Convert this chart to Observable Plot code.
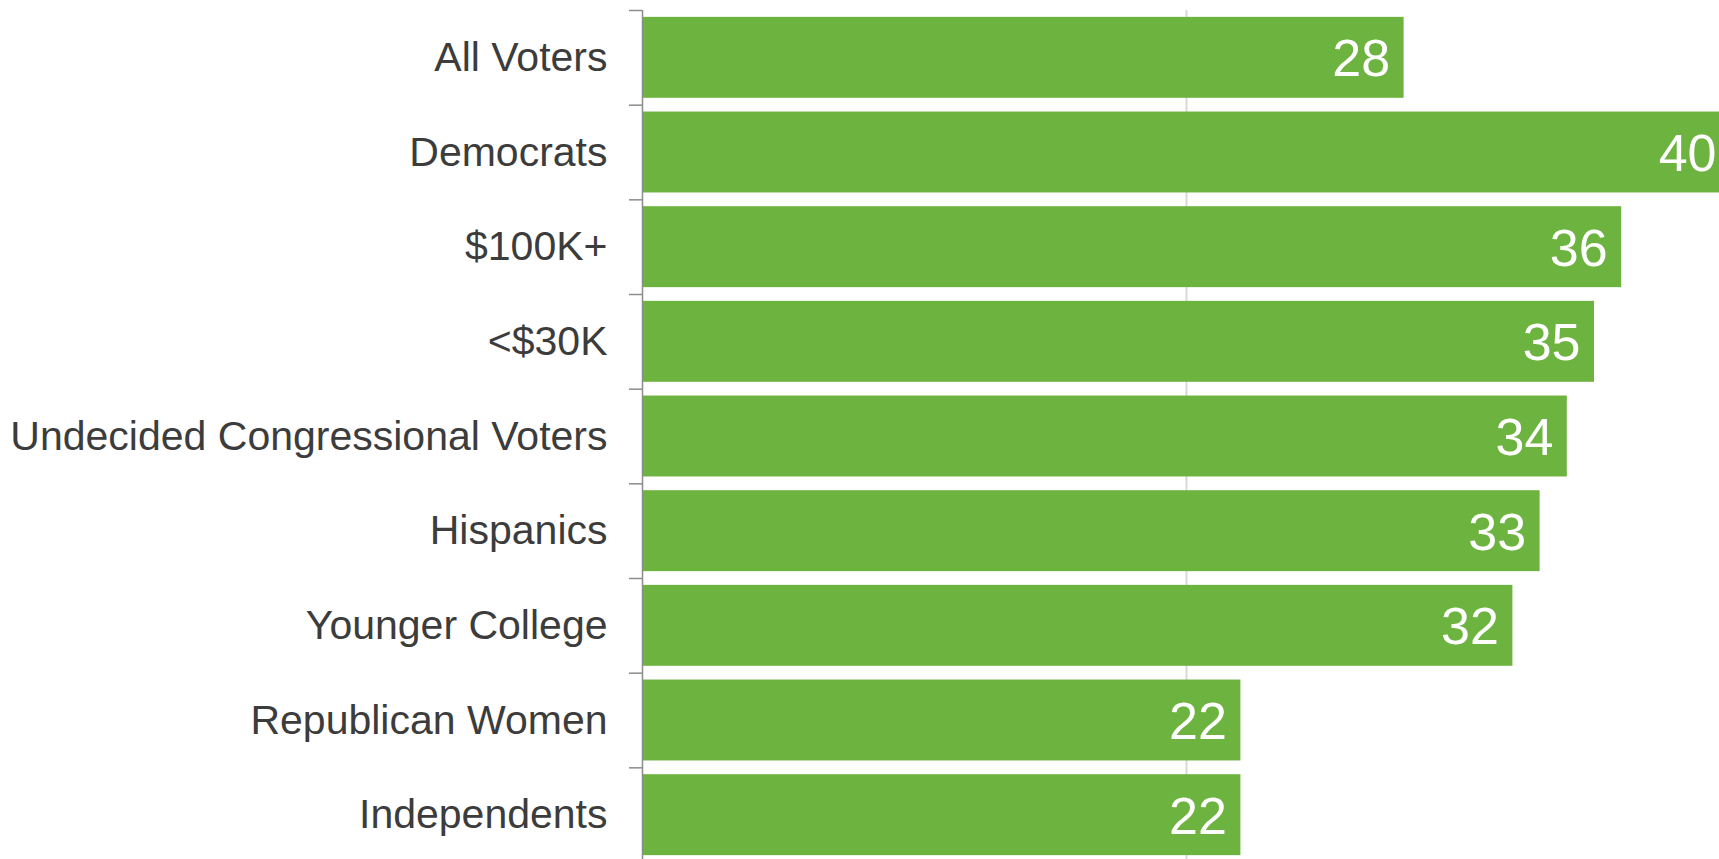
<!DOCTYPE html>
<html>
<head>
<meta charset="utf-8">
<script src="https://cdn.jsdelivr.net/npm/d3@7"></script>
<script src="https://cdn.jsdelivr.net/npm/@observablehq/plot@0.6"></script>
<style>
html, body { margin: 0; padding: 0; overflow: hidden; background: #ffffff; }
#chart svg { display: block; max-width: none !important; }
</style>
</head>
<body>
<div id="chart"></div>
<script>
const categories = ["All Voters", "Democrats", "$100K+", "<$30K", "Undecided Congressional Voters", "Hispanics", "Younger College", "Republican Women", "Independents"];
const values = [28, 40, 36, 35, 34, 33, 32, 22, 22];
const gridValues = [20, 40];

const data = categories.map((c, i) => ({category: c, value: values[i]}));

const width = 1740, height = 862, marginTop = 10, marginBottom = 0;
const step = (height - marginTop - marginBottom) / categories.length;
const font = "'Liberation Sans', Arial, Helvetica, sans-serif";

const chart = Plot.plot({
  width, height,
  marginLeft: 642, marginRight: 10, marginTop, marginBottom,
  style: {fontFamily: font, background: "#ffffff", maxWidth: "none"},
  x: {domain: [0, 40], axis: null},
  y: {domain: categories, paddingInner: 0.145, paddingOuter: 0.0725, align: 0.5, round: false, axis: null},
  marks: [
    Plot.ruleX(gridValues, {stroke: "#d9d9d9", strokeWidth: 2}),
    Plot.barX(data, {x: "value", y: "category", fill: "#6db33f"}),
    Plot.text(data, {x: "value", y: "category", text: d => String(d.value), textAnchor: "end", dx: -14, dy: 2, fill: "#ffffff", fontSize: 52}),
    Plot.ruleX([0], {stroke: "#8c8c8c", strokeWidth: 1.5}),
    Plot.axisY({tickSize: 13, tickFormat: () => "", label: null, dy: -step / 2, stroke: "#8c8c8c", strokeWidth: 1.5}),
    Plot.axisY({tickSize: 0, tickPadding: 35, label: null, fontSize: 41, fill: "#3c3c3c"})
  ]
});
document.getElementById("chart").appendChild(chart);
</script>
</body>
</html>
